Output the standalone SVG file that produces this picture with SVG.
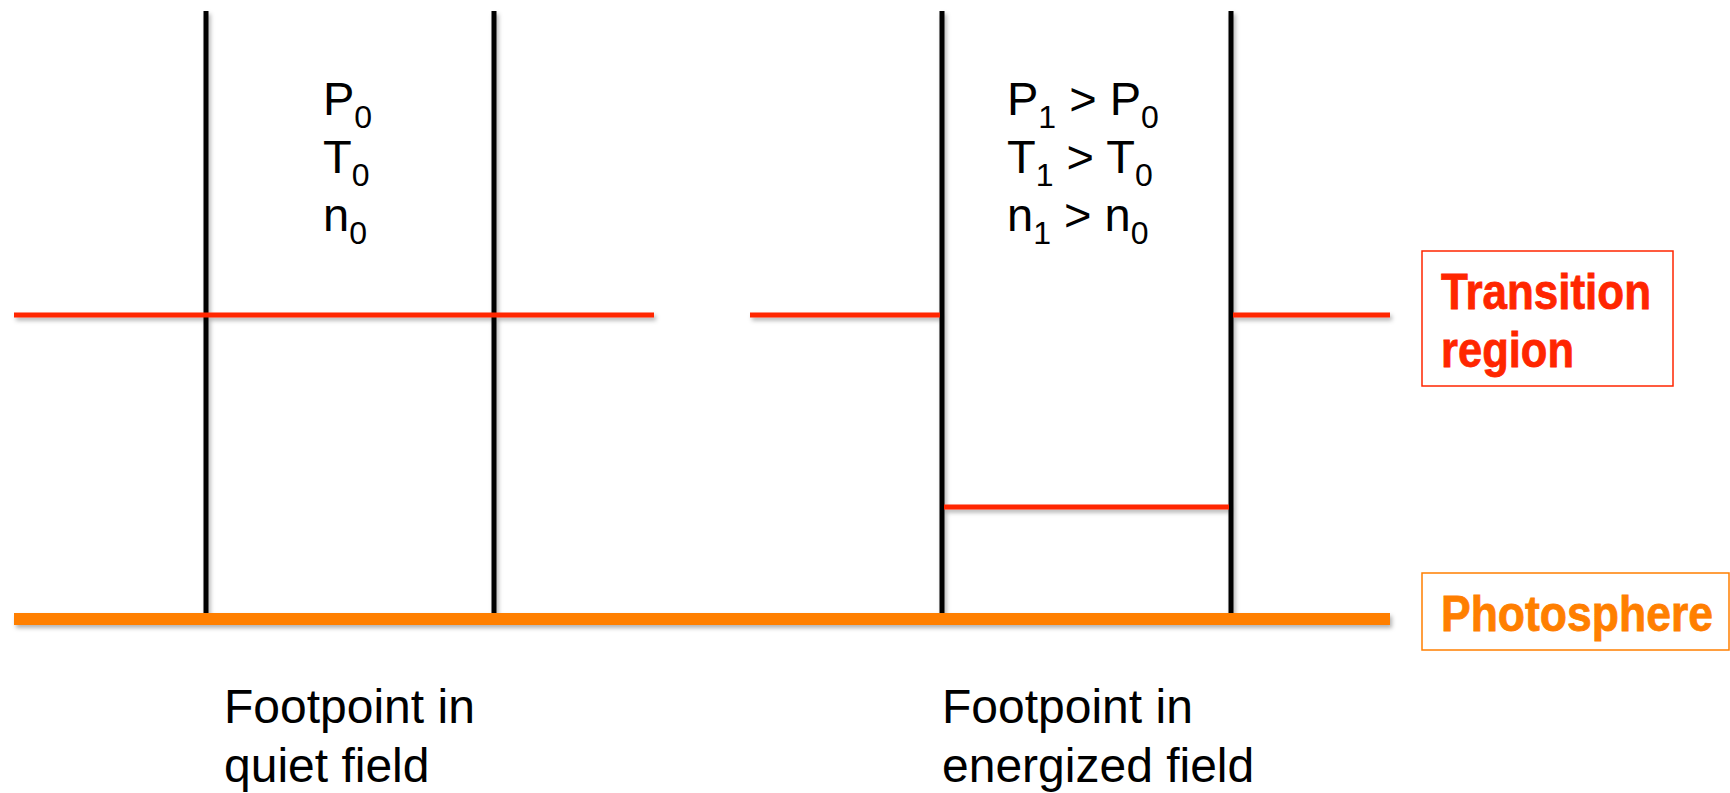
<svg xmlns="http://www.w3.org/2000/svg" width="1730" height="793" viewBox="0 0 1730 793">
<style>
.fl{stroke:#000;stroke-width:5;fill:none}
.tr{stroke:#FF2600;stroke-width:5;fill:none}
.ph{stroke:#FF7F00;stroke-width:12;fill:none}
.lbl{font-family:"Liberation Sans",Arial,sans-serif;font-size:47px;fill:#000}
.foot{font-size:48px}
.sub{font-size:32px}
.key{font-family:"Liberation Sans",Arial,sans-serif;font-size:50px;font-weight:bold}
</style>
<defs>
<filter id="sh" x="-5%" y="-50%" width="110%" height="200%">
<feDropShadow dx="2" dy="3" stdDeviation="2" flood-color="#000" flood-opacity="0.3"/>
</filter>
</defs>
<rect width="1730" height="793" fill="#fff"/>
<g id="connectors" filter="url(#sh)">
<line class="fl" x1="206" y1="11" x2="206" y2="613"/>
<line class="fl" x1="494" y1="11" x2="494" y2="613"/>
<line class="fl" x1="942" y1="11" x2="942" y2="613"/>
<line class="fl" x1="1231" y1="11" x2="1231" y2="613"/>
<line class="tr" x1="14" y1="315" x2="654" y2="315"/>
<line class="tr" x1="750" y1="315" x2="940" y2="315"/>
<line class="tr" x1="1233" y1="315" x2="1390" y2="315"/>
<line class="tr" x1="944" y1="507" x2="1229" y2="507"/>
<line class="ph" x1="14" y1="619" x2="1390" y2="619"/>
</g>
<g id="quiet-params">
<text class="lbl" x="323" y="115">P<tspan class="sub" dy="13">0</tspan></text>
<text class="lbl" x="323" y="173">T<tspan class="sub" dy="13">0</tspan></text>
<text class="lbl" x="323" y="231">n<tspan class="sub" dy="13">0</tspan></text>
</g>
<g id="energized-params">
<text class="lbl" x="1007" y="115">P<tspan class="sub" dy="13">1</tspan><tspan dy="-13"> &gt; P</tspan><tspan class="sub" dy="13">0</tspan></text>
<text class="lbl" x="1007" y="173">T<tspan class="sub" dy="13">1</tspan><tspan dy="-13"> &gt; T</tspan><tspan class="sub" dy="13">0</tspan></text>
<text class="lbl" x="1007" y="231">n<tspan class="sub" dy="13">1</tspan><tspan dy="-13"> &gt; n</tspan><tspan class="sub" dy="13">0</tspan></text>
</g>
<g id="transition-region">
<rect x="1422" y="251" width="251" height="135" fill="none" stroke="#FF2600" stroke-width="1.5"/>
<text class="key" fill="#FF2600" stroke="#FF2600" stroke-width="0.8" x="1441" y="309" textLength="210" lengthAdjust="spacingAndGlyphs">Transition</text>
<text class="key" fill="#FF2600" stroke="#FF2600" stroke-width="0.8" x="1441" y="367" textLength="133" lengthAdjust="spacingAndGlyphs">region</text>
</g>
<g id="photosphere">
<rect x="1422" y="573" width="307" height="77" fill="none" stroke="#FF7F00" stroke-width="1.5"/>
<text class="key" fill="#FF7F00" stroke="#FF7F00" stroke-width="0.8" x="1441" y="631" textLength="272" lengthAdjust="spacingAndGlyphs">Photosphere</text>
</g>
<g id="quiet-footpoint">
<text class="lbl foot" x="224" y="723">Footpoint in</text>
<text class="lbl foot" x="224" y="782">quiet field</text>
</g>
<g id="energized-footpoint">
<text class="lbl foot" x="942" y="723">Footpoint in</text>
<text class="lbl foot" x="942" y="782">energized field</text>
</g>
</svg>
